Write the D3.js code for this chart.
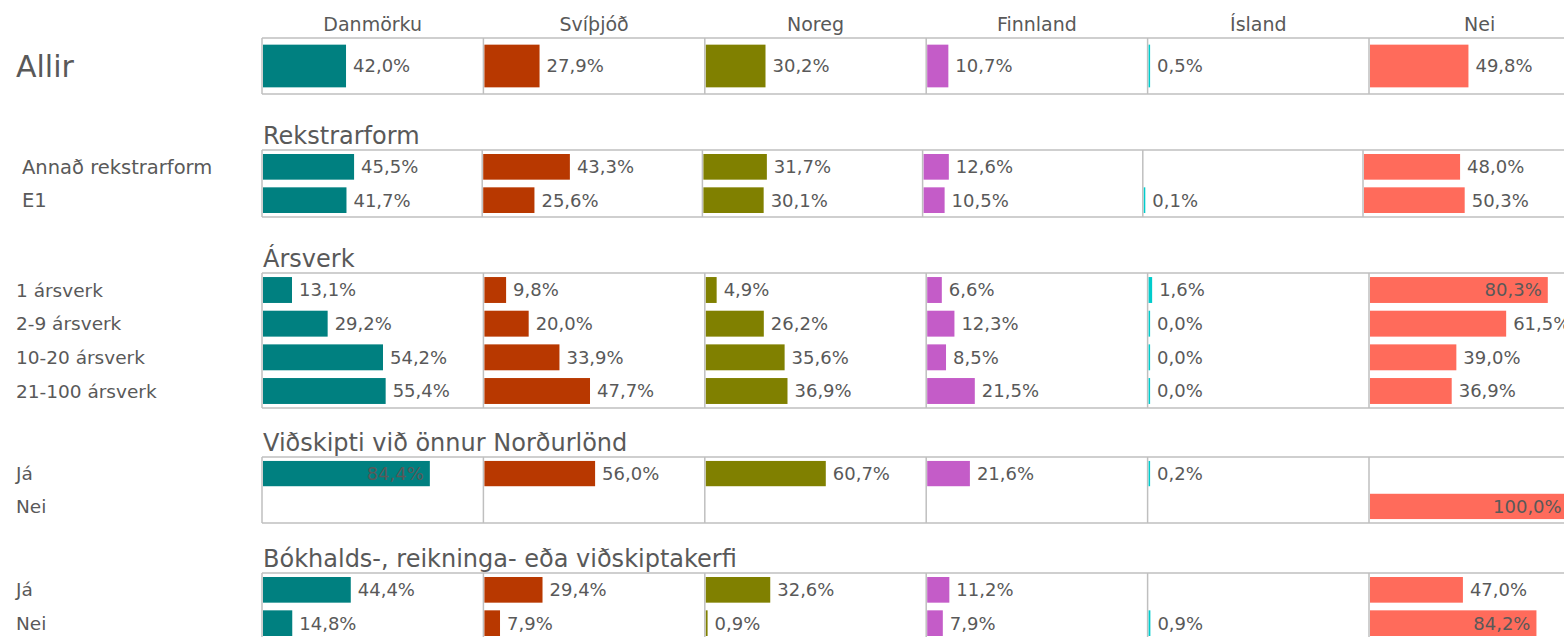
<!DOCTYPE html>
<html>
<head>
<meta charset="utf-8">
<script src="https://cdn.jsdelivr.net/npm/d3@7"></script>
<style>
  body { margin: 0; background: #ffffff; }
  svg { display: block; font-family: 'DejaVu Sans', sans-serif; }
  text { fill: #595959; }
  .grid { stroke: #bfbfbf; stroke-width: 1.5; }
</style>
</head>
<body>
<svg width="1564" height="637"></svg>
<script>
// data, share of firms in %
const countries = ['Danmörku', 'Svíþjóð', 'Noreg', 'Finnland', 'Ísland', 'Nei']
const countryColors = ['#008080', '#b83800', '#808000', '#c45cc8', '#00cccc', '#ff6b5b']

const allirLabel = 'Allir'
const allirValues = [42.0, 27.9, 30.2, 10.7, 0.5, 49.8]

const rekstrarformTitle = 'Rekstrarform'
const rekstrarformRows = ['Annað rekstrarform', 'E1']
const rekstrarformValues = [
  [45.5, 43.3, 31.7, 12.6, null, 48.0],
  [41.7, 25.6, 30.1, 10.5, 0.1, 50.3]
]

const arsverkTitle = 'Ársverk'
const arsverkRows = ['1 ársverk', '2-9 ársverk', '10-20 ársverk', '21-100 ársverk']
const arsverkValues = [
  [13.1, 9.8, 4.9, 6.6, 1.6, 80.3],
  [29.2, 20.0, 26.2, 12.3, 0.0, 61.5],
  [54.2, 33.9, 35.6, 8.5, 0.0, 39.0],
  [55.4, 47.7, 36.9, 21.5, 0.0, 36.9]
]

const vidskiptiTitle = 'Viðskipti við önnur Norðurlönd'
const vidskiptiRows = ['Já', 'Nei']
const vidskiptiValues = [
  [84.4, 56.0, 60.7, 21.6, 0.2, null],
  [null, null, null, null, null, 100.0]
]

const bokhaldTitle = 'Bókhalds-, reikninga- eða viðskiptakerfi'
const bokhaldRows = ['Já', 'Nei']
const bokhaldValues = [
  [44.4, 29.4, 32.6, 11.2, null, 47.0],
  [14.8, 7.9, 0.9, 7.9, 0.9, 84.2]
]

// layout of the separate small charts (each one had its own axis in the original)
const chartLeft = 262
const sections = [
  { title: null, rows: [allirLabel], values: [allirValues], top: 38, bottom: 94, panelW: 221.4, max: 112, labelX: 16, big: true },
  { title: rekstrarformTitle, rows: rekstrarformRows, values: rekstrarformValues, top: 150, bottom: 217, panelW: 220.2, max: 110, labelX: 22, labelSize: 19.5 },
  { title: arsverkTitle, rows: arsverkRows, values: arsverkValues, top: 273, bottom: 408, panelW: 221.4, max: 100, labelX: 16 },
  { title: vidskiptiTitle, rows: vidskiptiRows, values: vidskiptiValues, top: 457, bottom: 523, panelW: 221.4, max: 112, labelX: 16 },
  { title: bokhaldTitle, rows: bokhaldRows, values: bokhaldValues, top: 573, bottom: 640, panelW: 221.4, max: 112, labelX: 16 }
]

const fmt = v => d3.format('.1f')(v).replace('.', ',') + '%'

const svg = d3.select('svg')

// country headers, centred over the top panels
const headX = d3.scaleBand().domain(countries).range([chartLeft, chartLeft + 6 * 221.4])
svg.selectAll('text.head')
  .data(countries)
  .enter()
  .append('text')
  .attr('class', 'head')
  .attr('x', d => headX(d) + headX.bandwidth() / 2)
  .attr('y', 31)
  .attr('text-anchor', 'middle')
  .style('font-size', '19px')
  .text(d => d)

sections.forEach(sec => {
  const g = svg.append('g')
  const x = d3.scaleBand().domain(countries).range([chartLeft, chartLeft + 6 * sec.panelW])
  const w = d3.scaleLinear().domain([0, sec.max]).range([0, sec.panelW])
  const y = d3.scaleBand().domain(sec.rows).range([sec.top, sec.bottom])
    .paddingInner(0.23).paddingOuter(0.12)

  if (sec.title) {
    g.append('text')
      .attr('x', chartLeft + 1)
      .attr('y', sec.top - 6)
      .style('font-size', '24px')
      .text(sec.title)
  }

  // panel frame
  g.selectAll('line.h')
    .data([sec.top, sec.bottom])
    .enter()
    .append('line')
    .attr('class', 'grid')
    .attr('x1', chartLeft).attr('x2', 1600)
    .attr('y1', d => d).attr('y2', d => d)
  g.selectAll('line.v')
    .data(countries)
    .enter()
    .append('line')
    .attr('class', 'grid')
    .attr('x1', d => x(d)).attr('x2', d => x(d))
    .attr('y1', sec.top).attr('y2', sec.bottom)

  // row labels
  g.selectAll('text.row')
    .data(sec.rows)
    .enter()
    .append('text')
    .attr('x', sec.labelX)
    .attr('y', d => y(d) + y.bandwidth() / 2)
    .attr('dy', '0.36em')
    .style('font-size', sec.big ? '30px' : (sec.labelSize || 18.5) + 'px')
    .text(d => d)

  // bars and value labels
  sec.rows.forEach((row, ri) => {
    countries.forEach((c, ci) => {
      const v = sec.values[ri][ci]
      if (v === null) return
      const x0 = x(c) + 1
      const bw = Math.max(w(v), 1.5)
      g.append('rect')
        .attr('x', x0)
        .attr('y', y(row))
        .attr('width', bw)
        .attr('height', y.bandwidth())
        .style('fill', countryColors[ci])
      const t = g.append('text')
        .attr('y', y(row) + y.bandwidth() / 2)
        .attr('dy', '0.36em')
        .style('font-size', '18px')
        .text(fmt(v))
      const tw = t.node().getComputedTextLength()
      // label goes inside the bar when it would not fit in the panel
      if (x0 + bw + 7 + tw > x(c) + sec.panelW) {
        t.attr('x', x0 + bw - 6).attr('text-anchor', 'end')
      } else {
        t.attr('x', x0 + bw + 7)
      }
    })
  })
})
</script>
</body>
</html>
